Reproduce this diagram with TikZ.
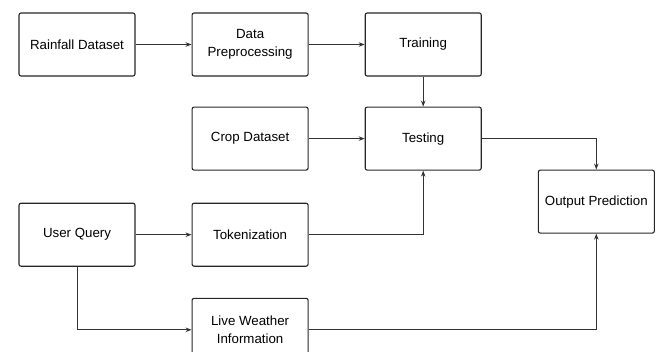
\documentclass[tikz,border=0pt]{standalone}
\usepackage{fontspec}
\setmainfont{Liberation Sans}
\usetikzlibrary{arrows.meta, positioning}
\tikzstyle{process} = [rectangle, rounded corners=2pt, minimum width=116pt, minimum height=63pt, text centered, draw=black!85, line width=1.1pt, font=\fontsize{13.3}{18}\selectfont]
\tikzstyle{arrow}   = [line width=0.9pt, draw=black!80, ->, >={Stealth[length=6pt, width=4.5pt]}]
\tikzset{every node/.style={align=center}}

\begin{document}
\begin{tikzpicture}[node distance=30pt and 56pt]
    \useasboundingbox (0,0) rectangle (658pt,-351pt);
    \node (rain)  [process] at (77pt,-44.5pt) {Rainfall Dataset};
    \node (prep)  [process, right=of rain]  {Data\\Preprocessing};
    \node (train) [process, right=of prep]  {Training};
    \node (test)  [process, below=of train] {Testing};
    \node (crop)  [process, left=of test]   {Crop Dataset};
    \node (out)   [process, right=of test, yshift=-63pt] {Output Prediction};
    \node (tok)   [process, below=32pt of crop] {Tokenization};
    \node (query) [process, left=of tok]    {User Query};
    \node (live)  [process, below=31pt of tok] {Live Weather\\Information};

    \draw [arrow] (rain)  -- (prep);
    \draw [arrow] (prep)  -- (train);
    \draw [arrow] (train) -- (test);
    \draw [arrow] (crop)  -- (test);
    \draw [arrow] (test.east) -| (out.north);
    \draw [arrow] (query) -- (tok);
    \draw [arrow] (tok.east) -| (test.south);
    \draw [arrow] (query.south) |- (live.west);
    \draw [arrow] (live.east) -| (out.south);
\end{tikzpicture}
\end{document}
